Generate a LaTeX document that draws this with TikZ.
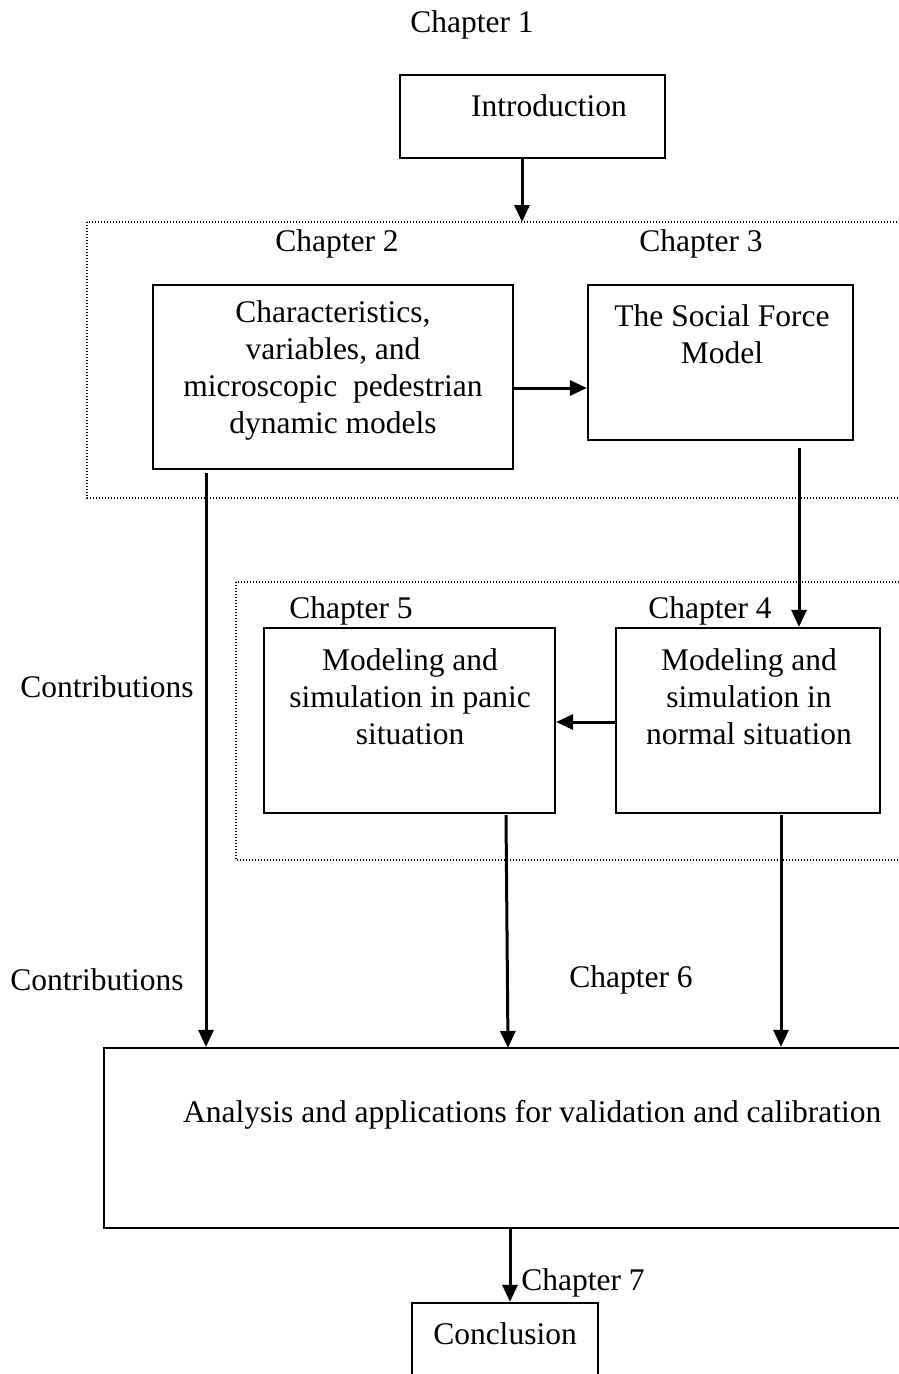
\documentclass[tikz,border=0pt]{standalone}
\usepackage{fontspec}
\setmainfont{Liberation Serif}
\usetikzlibrary{arrows.meta,positioning}

\begin{document}
\begin{tikzpicture}[
        x=1pt, y=-1pt,
        font=\fontsize{31.5}{37}\selectfont,
        >={Triangle[length=17pt,width=15pt]},
        chbox/.style={draw, line width=2.2pt, inner sep=0pt},
        txt/.style={align=center, inner sep=0pt},
        flow/.style={->, line width=3pt},
        group/.style={draw, line width=1.6pt, dash pattern=on 1.3pt off 1.7pt}
      ]
      \useasboundingbox (0,0) rectangle (899,1374);
      \clip (0,0) rectangle (899,1374);

      % dotted groups
      \draw[group] (87,222) rectangle (960,498);
      \draw[group] (236,582) rectangle (960,860);

      % chapter labels
      \node[txt] (c1) at (472,25) {Chapter 1};
      \node[txt] (c2) at (337,244) {Chapter 2};
      \node[txt] (c3) at (701,244) {Chapter 3};
      \node[txt] (c5) at (351,611) {Chapter 5};
      \node[txt] (c4) at (710,611) {Chapter 4};
      \node[txt] (c6) at (631,980) {Chapter 6};
      \node[txt] (c7) at (583,1283) {Chapter 7};
      \node[txt] (contrib1) at (107,687) {Contributions};
      \node[txt] (contrib2) at (97,980) {Contributions};

      % boxes
      \node[chbox, minimum width=265, minimum height=83] (intro) at (532.5,116.5) {};
      \node[txt] (introtxt) at (549,106) {Introduction};
      \node[chbox, minimum width=360, minimum height=184] (ch2) at (333,377) {};
      \node[txt] (ch2txt) at (333,370) {Characteristics,\\variables, and\\microscopic~ pedestrian\\dynamic models};
      \node[chbox, minimum width=265, minimum height=155] (ch3) at (720.5,362.5) {};
      \node[txt] (ch3txt) at (722,334.5) {The Social Force\\Model};
      \node[chbox, minimum width=291, minimum height=185] (ch5) at (409.5,720.5) {};
      \node[txt] (ch5txt) at (410,697) {Modeling and\\simulation in panic\\situation};
      \node[chbox, minimum width=264, minimum height=185] (ch4) at (748,720.5) {};
      \node[txt] (ch4txt) at (749,697) {Modeling and\\simulation in\\normal situation};
      \node[chbox, minimum width=856, minimum height=180] (ch6) at (532,1138) {};
      \node[txt, anchor=west] (ch6txt) at (183,1115) {Analysis and applications for validation and calibration};
      \node[chbox, minimum width=186, minimum height=120] (concl) at (505,1363) {};
      \node[txt] (concltxt) at (505,1334) {Conclusion};

      % connectors
      \coordinate (g1top) at (522,222);
      \coordinate (c2out) at (206,473);
      \coordinate (c3out) at (799,448);
      \coordinate (c5out) at (506,815);
      \coordinate (c5in) at (508,1048);
      \coordinate (c4out) at (781,815);
      \coordinate (c6out) at (510,1228);

      \draw[flow] (intro.south -| g1top) -- (g1top);
      \draw[flow] (ch2.east |- 0,388) -- (ch3.west |- 0,388);
      \draw[flow] (c3out) -- (c3out |- ch4.north);
      \draw[flow] (ch4.west |- 0,722) -- (ch5.east |- 0,722);
      \draw[flow] (c2out) -- (c2out |- ch6.north);
      \draw[flow] (c5out) -- (c5in);
      \draw[flow] (c4out) -- (c4out |- ch6.north);
      \draw[flow] (c6out) -- (c6out |- concl.north);
    \end{tikzpicture}
\end{document}
